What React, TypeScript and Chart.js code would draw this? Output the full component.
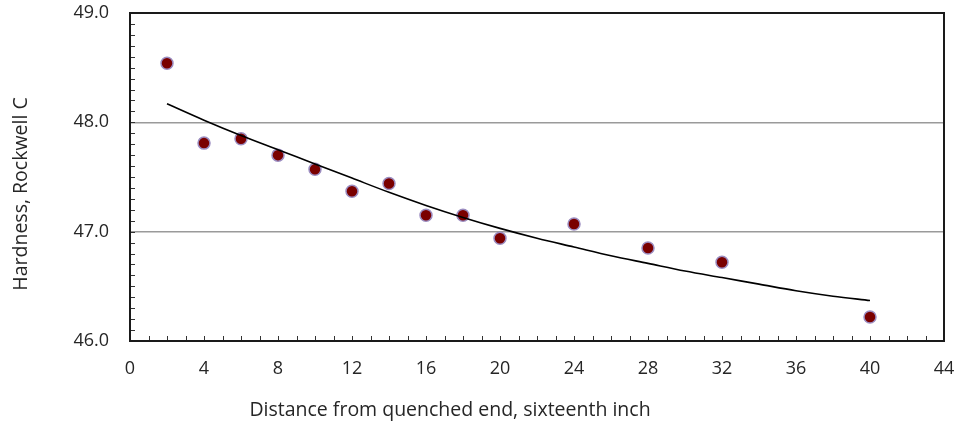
import React, { useEffect, useRef } from "react";
import { Chart, registerables } from "chart.js";

Chart.register(...registerables);

const distances = [2, 4, 6, 8, 10, 12, 14, 16, 18, 20, 24, 28, 32, 40];
const hardness = [48.54, 47.81, 47.85, 47.7, 47.57, 47.37, 47.44, 47.15, 47.15, 46.94, 47.07, 46.85, 46.72, 46.22];

const trendX = [2, 4, 6, 8, 10, 12, 14, 16, 18, 20, 22, 24, 26, 28, 30, 32, 34, 36, 38, 40];
const trendY = [48.17, 48.02, 47.88, 47.75, 47.62, 47.49, 47.36, 47.24, 47.13, 47.03, 46.94, 46.86, 46.78, 46.71, 46.64, 46.58, 46.52, 46.46, 46.41, 46.37];

const xTickValues = [0, 4, 8, 12, 16, 20, 24, 28, 32, 36, 40, 44];
const yTickValues = [46, 47, 48, 49];

const xTitle = "Distance from quenched end, sixteenth inch";
const yTitle = "Hardness, Rockwell C";

const FONT = "'Open Sans', 'DejaVu Sans', sans-serif";

const framePlugin = {
  id: "frame",
  afterDraw(chart: any) {
    const { ctx, chartArea: a, scales } = chart;
    const xs = scales.x;
    const ys = scales.y;
    ctx.save();
    // minor ticks
    ctx.strokeStyle = "#333";
    ctx.lineWidth = 1;
    ctx.beginPath();
    for (let v = 0; v <= 44; v += 1) {
      const px = Math.round(xs.getPixelForValue(v)) + 0.5;
      ctx.moveTo(px, a.bottom);
      ctx.lineTo(px, a.bottom - 5);
    }
    for (let i = 0; i <= 30; i++) {
      const v = 46 + i / 10;
      const py = Math.round(ys.getPixelForValue(v)) + 0.5;
      ctx.moveTo(a.left, py);
      ctx.lineTo(a.left + 5, py);
    }
    ctx.stroke();
    // frame
    ctx.strokeStyle = "#1a1a1a";
    ctx.lineWidth = 2;
    ctx.strokeRect(a.left, a.top, a.right - a.left, a.bottom - a.top);
    // titles
    ctx.fillStyle = "#262626";
    ctx.font = `19.5px ${FONT}`;
    ctx.textAlign = "center";
    ctx.textBaseline = "middle";
    ctx.fillText(xTitle, 450, 410);
    ctx.translate(21, 194);
    ctx.rotate(-Math.PI / 2);
    ctx.fillText(yTitle, 0, 0);
    ctx.restore();
  },
};

export default function App() {
  const ref = useRef<HTMLCanvasElement>(null);
  useEffect(() => {
    const chart = new Chart(ref.current!, {
      type: "scatter",
      data: {
        datasets: [
          {
            type: "line",
            label: "Trend",
            data: trendX.map((x, i) => ({ x, y: trendY[i] })),
            borderColor: "#000",
            borderWidth: 1.6,
            pointRadius: 0,
            tension: 0.4,
            cubicInterpolationMode: "monotone",
            fill: false,
          } as any,
          {
            label: "Hardness",
            data: distances.map((x, i) => ({ x, y: hardness[i] })),
            backgroundColor: "#7a0000",
            borderColor: "#9b8cc0",
            borderWidth: 1.5,
            pointRadius: 6,
          },
        ],
      },
      options: {
        responsive: false,
        maintainAspectRatio: false,
        animation: false,
        layout: { padding: { top: 13, right: 12, left: 0, bottom: 0 } },
        plugins: { legend: { display: false }, tooltip: { enabled: false } },
        scales: {
          x: {
            type: "linear",
            min: 0,
            max: 44,
            afterFit(s: any) {
              s.height = 84;
              s.paddingLeft = 0;
              s.paddingRight = 0;
            },
            afterBuildTicks(s: any) {
              s.ticks = xTickValues.map((v) => ({ value: v }));
            },
            grid: { display: false, drawTicks: false },
            border: { display: false },
            ticks: {
              padding: 17,
              color: "#262626",
              font: { family: FONT, size: 18 },
              maxRotation: 0,
              autoSkip: false,
            },
          },
          y: {
            type: "linear",
            min: 46,
            max: 49,
            afterFit(s: any) {
              s.width = 130;
              s.paddingTop = 0;
              s.paddingBottom = 0;
            },
            afterBuildTicks(s: any) {
              s.ticks = yTickValues.map((v) => ({ value: v }));
            },
            grid: {
              drawTicks: false,
              lineWidth: 1.5,
              color: (c: any) => (c.tick && (c.tick.value === 47 || c.tick.value === 48) ? "#9a9a9a" : "rgba(0,0,0,0)"),
            },
            border: { display: false },
            ticks: {
              padding: 21,
              color: "#262626",
              font: { family: FONT, size: 18 },
              callback: (v: any) => Number(v).toFixed(1),
            },
          },
        },
      },
      plugins: [framePlugin],
    });
    return () => chart.destroy();
  }, []);
  return (
    <div style={{ position: "absolute", left: 0, top: 0, width: 956, height: 425, background: "#fff" }}>
      <canvas ref={ref} width={956} height={425} />
    </div>
  );
}
